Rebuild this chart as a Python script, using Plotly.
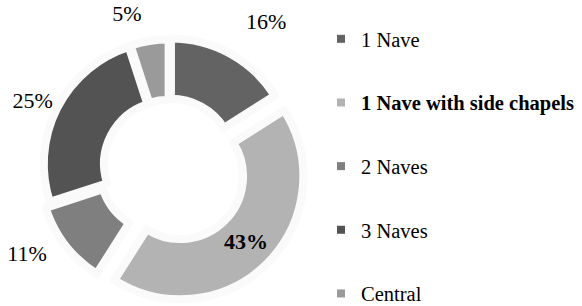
import plotly.graph_objects as go

categories = ["1 Nave", "1 Nave with side chapels", "2 Naves", "3 Naves", "Central"]
values = [16, 43, 11, 25, 5]
colors = ["#636363", "#b3b3b3", "#7f7f7f", "#535353", "#9a9a9a"]
bold = [False, True, False, False, False]
inside_label = [False, True, False, False, False]
pulls = [0.033, 0.13, 0.065, 0.02, 0.02]
label_pulls = [0.19, 0.0, 0.19, 0.0, 0.094]   # how far each outside label sits from the ring

W, H = 582, 306
cx, cy, R = 169, 165, 123   # pie centre and radius in px
R_LABEL = 128               # radius of the invisible ring that carries outside labels
FONT = "Liberation Serif, Times New Roman, serif"


def domain_for(radius, maxpull):
    half = radius * (1 + maxpull)
    return dict(x=[(cx - half) / W, (cx + half) / W],
                y=[max(0, (H - cy - half) / H), min(1, (H - cy + half) / H)])


fig = go.Figure()

# invisible ring only used to place the outside percentage labels further out
fig.add_trace(go.Pie(
    labels=categories, values=values, sort=False, direction="clockwise", rotation=0,
    hole=0.9, pull=label_pulls,
    marker=dict(colors=["rgba(0,0,0,0)"] * len(values), line=dict(width=0)),
    texttemplate=["" if ins else "%{value}%" for ins in inside_label],
    textposition=["none" if ins else "outside" for ins in inside_label],
    outsidetextfont=dict(family=FONT, size=22, color="black"),
    showlegend=False, hoverinfo="skip",
    domain=domain_for(R_LABEL, max(label_pulls)),
))

# visible doughnut
fig.add_trace(go.Pie(
    labels=categories, values=values, sort=False, direction="clockwise", rotation=0,
    hole=0.51,
    pull=pulls,
    marker=dict(colors=colors, line=dict(color="#fafafa", width=8)),
    texttemplate=[("<b>%{value}%</b>" if bold[i] else "%{value}%") if ins else ""
                  for i, ins in enumerate(inside_label)],
    textposition=["inside" if ins else "none" for ins in inside_label],
    insidetextfont=dict(family=FONT, size=22, color="black"),
    showlegend=False,
    hoverinfo="label+percent",
    domain=domain_for(R, max(pulls)),
))

for i, (c, col) in enumerate(zip(categories, colors)):
    fig.add_trace(go.Scatter(
        x=[None], y=[None], mode="markers",
        marker=dict(symbol="square", size=8, color=col),
        name=f"<b>{c}</b>" if bold[i] else c,
        legendgroup=f"g{i}",
        showlegend=True,
    ))

fig.update_layout(
    width=W, height=H,
    margin=dict(l=0, r=0, t=0, b=0, autoexpand=False),
    paper_bgcolor="white", plot_bgcolor="white",
    xaxis=dict(visible=False), yaxis=dict(visible=False),
    legend=dict(x=(361 - 40) / W, xanchor="left", y=1 - 19 / H, yanchor="top",
                font=dict(family=FONT, size=20.5, color="black"),
                tracegroupgap=34, bgcolor="rgba(0,0,0,0)", itemclick=False,
                maxheight=600),
)

fig.write_html("out.html", config={"displayModeBar": False},
               post_script="document.body.style.margin='0px';")
